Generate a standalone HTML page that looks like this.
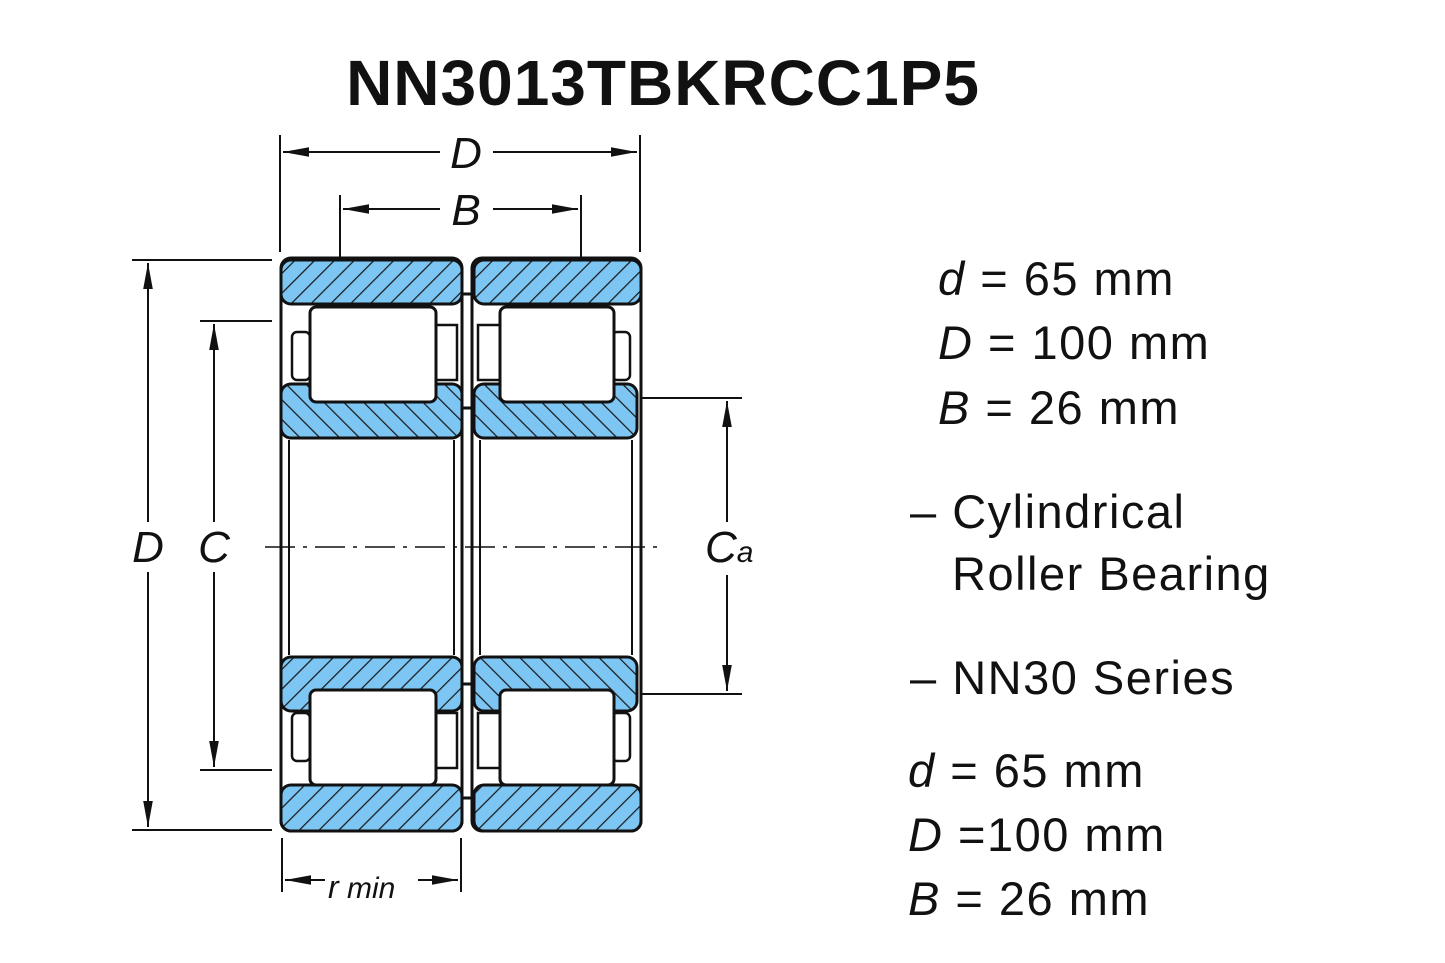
<!DOCTYPE html>
<html><head><meta charset="utf-8"><style>
body{margin:0;background:#fff;width:1445px;height:963px;overflow:hidden}
svg{display:block}
text{font-family:"Liberation Sans","DejaVu Sans",sans-serif;fill:#111}
</style></head><body>
<svg width="1445" height="963" viewBox="0 0 1445 963">
<defs>
<pattern id="h1" patternUnits="userSpaceOnUse" width="14" height="14" patternTransform="rotate(45)">
<rect width="14" height="14" fill="#7dc6f3"/><line x1="0" y1="0" x2="0" y2="14" stroke="#1a1a1a" stroke-width="2.5"/></pattern>
<pattern id="h2" patternUnits="userSpaceOnUse" width="14" height="14" patternTransform="rotate(-45)">
<rect width="14" height="14" fill="#7dc6f3"/><line x1="0" y1="0" x2="0" y2="14" stroke="#1a1a1a" stroke-width="2.5"/></pattern>
<marker id="a" viewBox="0 0 10 10" refX="10" refY="5" markerWidth="26" markerHeight="12" markerUnits="userSpaceOnUse" orient="auto-start-reverse" preserveAspectRatio="none"><path d="M0,1 L10,5 L0,9z" fill="#111"/></marker>
</defs>
<text x="663" y="105" font-size="64" font-weight="bold" text-anchor="middle" letter-spacing="1">NN3013TBKRCC1P5</text>

<g stroke="#111" stroke-width="2" fill="none">
<line x1="280" y1="135" x2="280" y2="252"/><line x1="640" y1="135" x2="640" y2="252"/>
<line x1="340" y1="195" x2="340" y2="258"/><line x1="581" y1="195" x2="581" y2="258"/>
<line x1="283" y1="152" x2="440" y2="152" marker-start="url(#a)"/><line x1="493" y1="152" x2="637" y2="152" marker-end="url(#a)"/>
<line x1="343" y1="209" x2="440" y2="209" marker-start="url(#a)"/><line x1="493" y1="209" x2="578" y2="209" marker-end="url(#a)"/>
<line x1="132" y1="260" x2="272" y2="260"/><line x1="132" y1="830" x2="272" y2="830"/>
<line x1="200" y1="321" x2="272" y2="321"/><line x1="200" y1="770" x2="272" y2="770"/>
<line x1="148" y1="263" x2="148" y2="522" marker-start="url(#a)"/><line x1="148" y1="572" x2="148" y2="827" marker-end="url(#a)"/>
<line x1="214" y1="324" x2="214" y2="522" marker-start="url(#a)"/><line x1="214" y1="572" x2="214" y2="767" marker-end="url(#a)"/>
<line x1="630" y1="398" x2="742" y2="398"/><line x1="630" y1="694" x2="742" y2="694"/>
<line x1="727" y1="401" x2="727" y2="522" marker-start="url(#a)"/><line x1="727" y1="575" x2="727" y2="691" marker-end="url(#a)"/>
<line x1="282" y1="838" x2="282" y2="892"/><line x1="461" y1="838" x2="461" y2="892"/>
<line x1="285" y1="880" x2="325" y2="880" marker-start="url(#a)"/><line x1="418" y1="880" x2="458" y2="880" marker-end="url(#a)"/>
</g>

<g stroke="#111" stroke-width="3">
<rect x="281" y="258" width="181" height="573" rx="10" fill="#fff"/>
<rect x="472" y="258" width="169" height="573" rx="10" fill="#fff"/>
<line x1="462" y1="294" x2="472" y2="294"/><line x1="462" y1="408" x2="472" y2="408"/>
<line x1="462" y1="684" x2="472" y2="684"/><line x1="462" y1="798" x2="472" y2="798"/>
<line x1="289" y1="440" x2="289" y2="655" stroke-width="2"/><line x1="454" y1="440" x2="454" y2="655" stroke-width="2"/>
<line x1="480" y1="440" x2="480" y2="655" stroke-width="2"/><line x1="632" y1="440" x2="632" y2="655" stroke-width="2"/>
<rect x="281" y="260" width="181" height="44" rx="10" fill="url(#h1)"/>
<rect x="474" y="260" width="167" height="44" rx="10" fill="url(#h1)"/>
<rect x="281" y="785" width="181" height="46" rx="10" fill="url(#h1)"/>
<rect x="474" y="785" width="167" height="46" rx="10" fill="url(#h1)"/>
<rect x="281" y="384" width="181" height="54" rx="10" fill="url(#h2)"/>
<rect x="474" y="384" width="163" height="54" rx="10" fill="url(#h2)"/>
<rect x="281" y="657" width="181" height="54" rx="10" fill="url(#h1)"/>
<rect x="474" y="657" width="163" height="54" rx="10" fill="url(#h2)"/>
<rect x="292" y="332" width="18" height="48" rx="5" fill="#fff" stroke-width="2.5"/>
<rect x="435" y="325" width="22" height="55" fill="#fff" stroke-width="2.5"/>
<rect x="478" y="325" width="22" height="55" fill="#fff" stroke-width="2.5"/>
<rect x="612" y="332" width="18" height="48" rx="5" fill="#fff" stroke-width="2.5"/>
<rect x="292" y="713" width="18" height="48" rx="5" fill="#fff" stroke-width="2.5"/>
<rect x="435" y="713" width="22" height="55" fill="#fff" stroke-width="2.5"/>
<rect x="478" y="713" width="22" height="55" fill="#fff" stroke-width="2.5"/>
<rect x="612" y="713" width="18" height="48" rx="5" fill="#fff" stroke-width="2.5"/>
<rect x="310" y="307" width="126" height="95" rx="6" fill="#fff"/>
<rect x="500" y="307" width="114" height="95" rx="6" fill="#fff"/>
<rect x="310" y="690" width="126" height="95" rx="6" fill="#fff"/>
<rect x="500" y="690" width="114" height="95" rx="6" fill="#fff"/>
</g>
<line x1="265" y1="547" x2="665" y2="547" stroke="#111" stroke-width="1.5" stroke-dasharray="30,8,4,8"/>

<g font-style="italic" font-size="44">
<text x="466" y="168" text-anchor="middle">D</text>
<text x="466" y="225" text-anchor="middle">B</text>
<text x="148" y="562" text-anchor="middle">D</text>
<text x="214" y="562" text-anchor="middle">C</text>
<text x="705" y="562">C<tspan font-size="30">a</tspan></text>
<text x="328" y="898" font-size="32">r<tspan font-size="30"> min</tspan></text>
</g>

<g font-size="47" letter-spacing="1.5">
<text x="938" y="295"><tspan font-style="italic">d</tspan> = 65 mm</text>
<text x="938" y="359"><tspan font-style="italic">D</tspan> = 100 mm</text>
<text x="938" y="424"><tspan font-style="italic">B</tspan> = 26 mm</text>
<text x="910" y="528">– Cylindrical</text>
<text x="952" y="590">Roller Bearing</text>
<text x="910" y="694">– NN30 Series</text>
<text x="908" y="787"><tspan font-style="italic">d</tspan> = 65 mm</text>
<text x="908" y="851"><tspan font-style="italic">D</tspan> =100 mm</text>
<text x="908" y="915"><tspan font-style="italic">B</tspan> = 26 mm</text>
</g>
</svg>
</body></html>
